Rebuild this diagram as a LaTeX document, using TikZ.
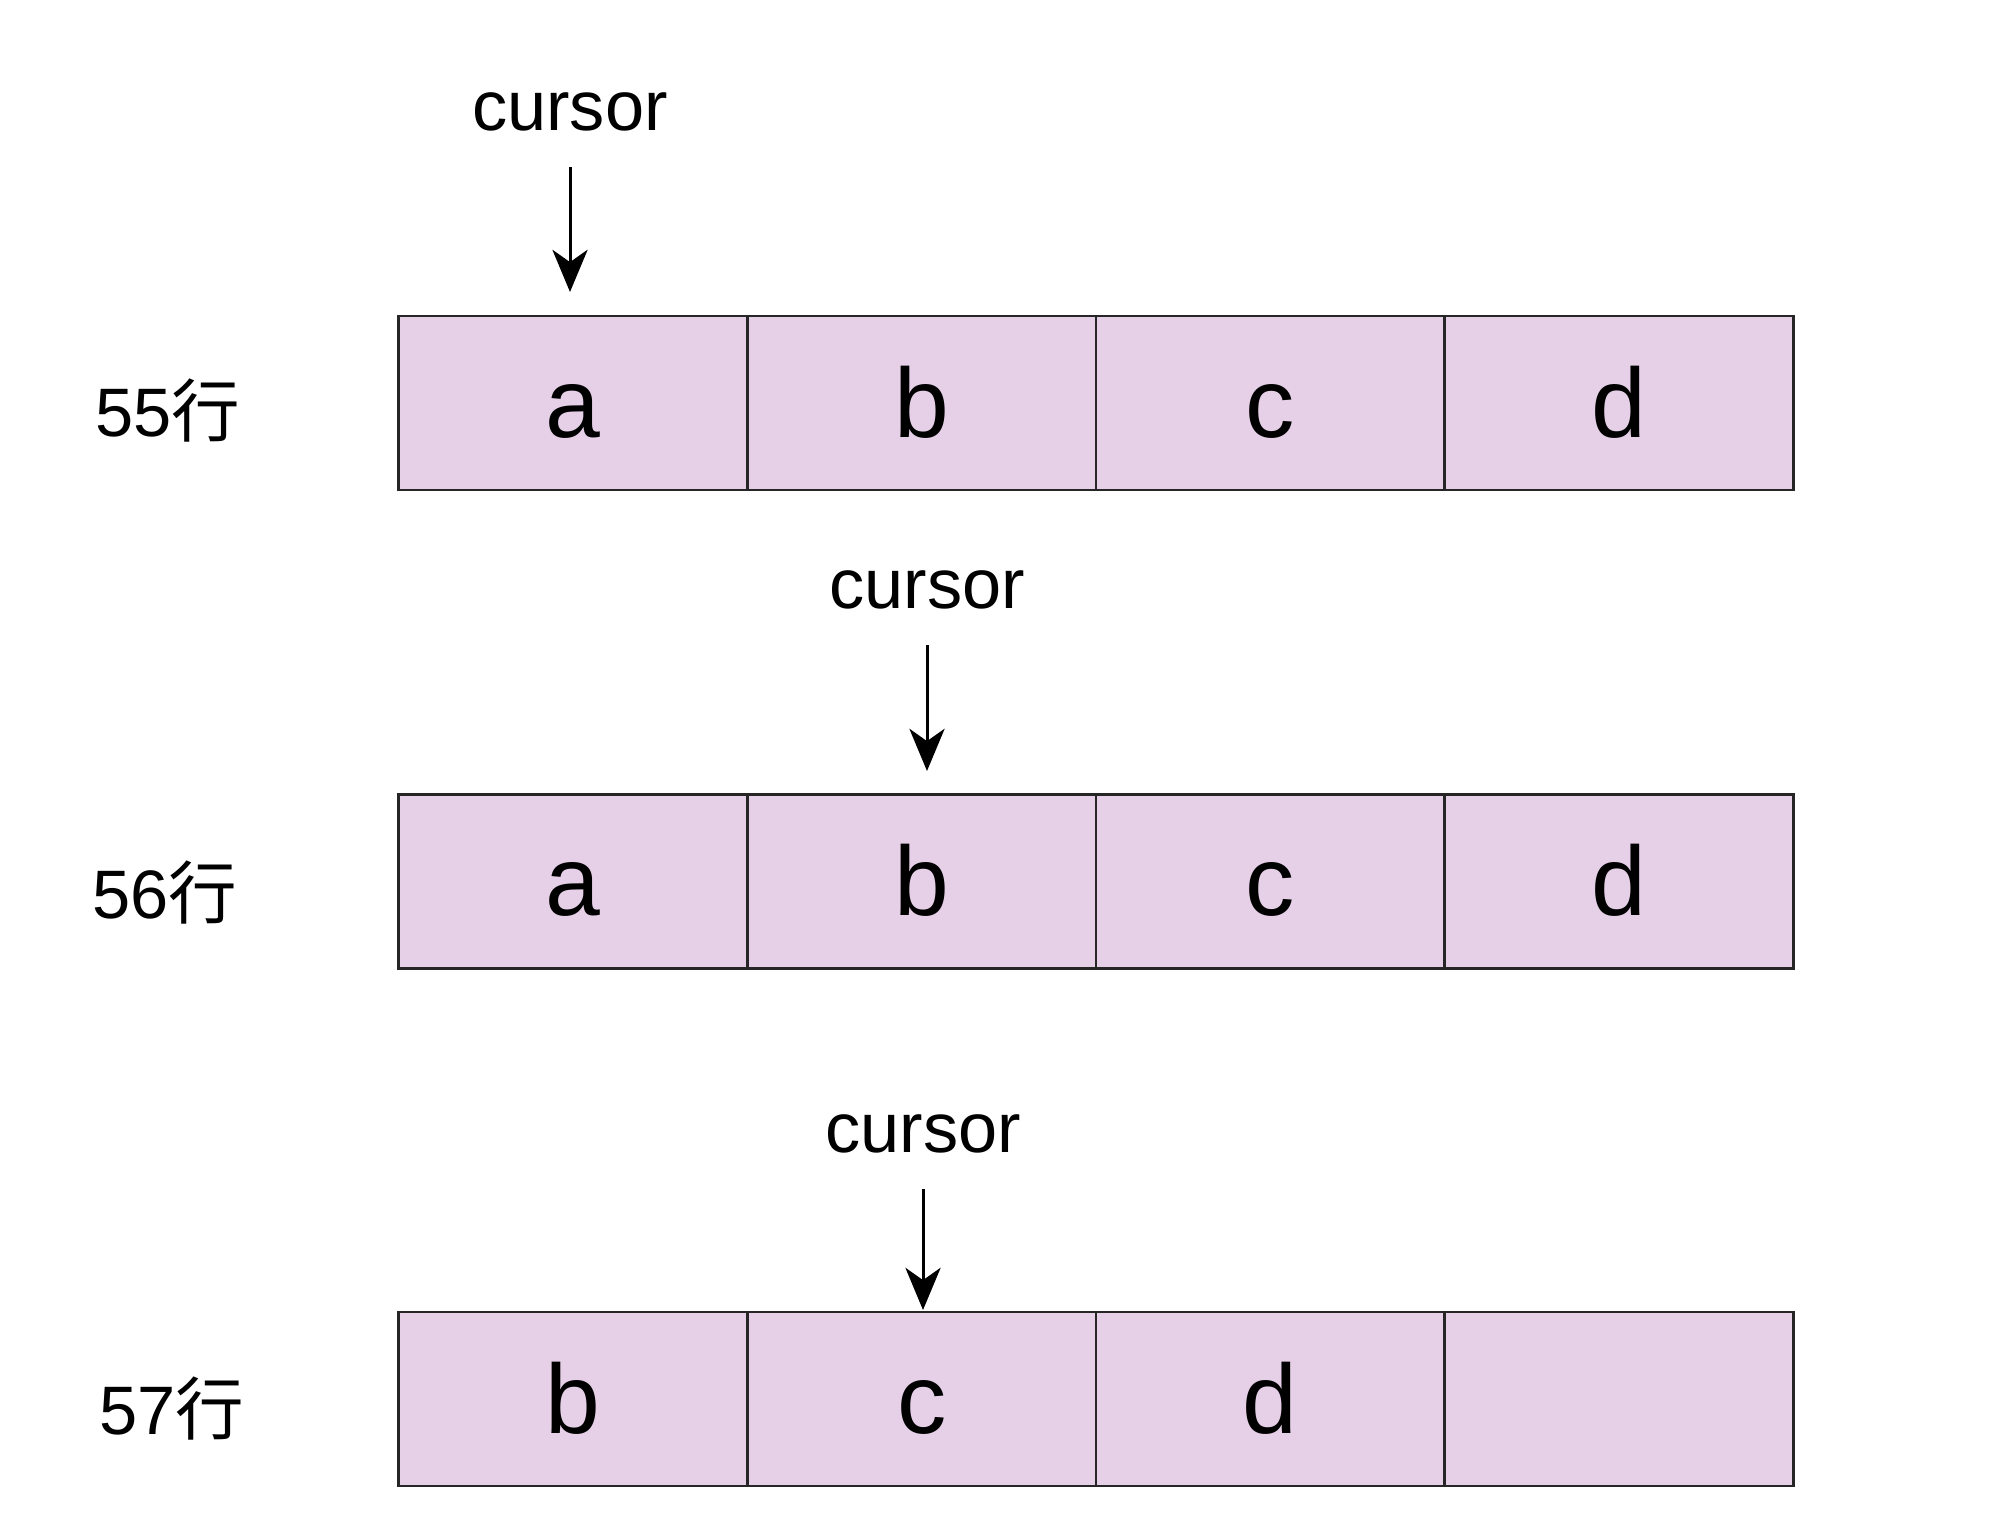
\documentclass[tikz,border=0pt]{standalone}
\usepackage{fontspec}
\setmainfont{Liberation Sans}
\newfontfamily\cjk{Noto Sans CJK SC}
\usetikzlibrary{arrows.meta}
\definecolor{cellfill}{RGB}{230,208,232}
\tikzset{
  cell/.style={draw=black!85, line width=0.8pt, fill=cellfill, minimum width=3.485cm,
    minimum height=1.74cm, inner sep=0pt, text height=19.5pt, text depth=0pt,
    font=\fontsize{28}{30}\selectfont},
  rowlabel/.style={font=\fontsize{19.5}{22}\selectfont},
  cursorlabel/.style={font=\fontsize{20}{24}\selectfont, inner sep=0pt},
  ptr/.style={-{Stealth[length=12pt,width=10pt,inset=3.5pt]}, line width=0.85pt}
}
\begin{document}
\begin{tikzpicture}[x=0.01cm,y=-0.01cm]
\useasboundingbox (0,0) rectangle (2000,1540);

% rows of cells
\foreach \t [count=\i] in {a,b,c,d}
  \node[cell] (r1c\i) at ({399+348.5*(\i-0.5)},403) {\t};
\foreach \t [count=\i] in {a,b,c,d}
  \node[cell] (r2c\i) at ({399+348.5*(\i-0.5)},881.5) {\t};
\foreach \t [count=\i] in {b,c,d,{}}
  \node[cell] (r3c\i) at ({399+348.5*(\i-0.5)},1399) {\t};

% row labels
\node[rowlabel] (l55) at (168,411) {55{\cjk 行}};
\node[rowlabel] (l56) at (165,893) {56{\cjk 行}};
\node[rowlabel] (l57) at (172,1409) {57{\cjk 行}};

% cursors
\node[cursorlabel] (cur1) at (570,112) {cursor};
\node[cursorlabel] (cur2) at (927,590) {cursor};
\node[cursorlabel] (cur3) at (923,1134) {cursor};

\coordinate (tip1) at (570,292);
\coordinate (tip2) at (927,771);
\coordinate (tip3) at (923,1310);

\draw[ptr] ([yshift=-10pt]cur1.south) -- (tip1);
\draw[ptr] ([yshift=-10pt]cur2.south) -- (tip2);
\draw[ptr] ([yshift=-10pt]cur3.south) -- (tip3);

\end{tikzpicture}
\end{document}
